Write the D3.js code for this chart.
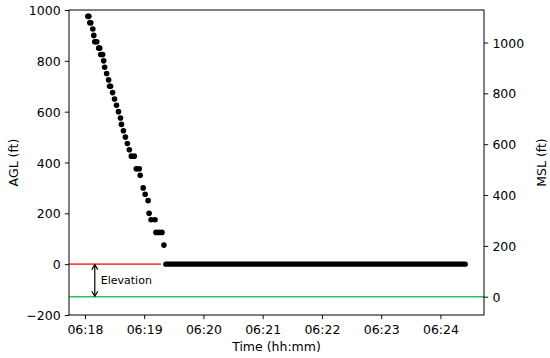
<!DOCTYPE html>
<html>
<head>
<meta charset="utf-8">
<script src="https://cdn.jsdelivr.net/npm/d3@7"></script>
<style>
  html, body { margin: 0; padding: 0; background: #fff; }
  svg { display: block; font-family: "DejaVu Sans", sans-serif; }
</style>
</head>
<body>
<svg id="chart" width="550" height="358"></svg>
<script>
// ---- data (seconds after 06:18:00, AGL feet) ----
const descentSeconds = [3, 4, 5, 6, 8, 9, 10, 12, 14, 15, 16, 18, 19, 20, 22, 24, 25, 26, 28, 30, 32, 34, 36, 37, 39, 41, 43, 45, 47, 50, 52, 55, 56, 59, 61, 64, 65, 67, 71, 72, 75, 78, 80];
const descentAGL     = [975, 975, 950, 950, 925, 900, 875, 875, 850, 850, 825, 825, 800, 775, 750, 725, 700, 700, 675, 650, 625, 600, 575, 550, 525, 500, 475, 450, 425, 425, 375, 375, 350, 300, 275, 250, 200, 175, 175, 125, 125, 125, 75];
const groundSeconds  = [82, 385];   // continuous 1 Hz samples on the ground
const groundAGL      = [0, 0];
const elevationFt    = 128;          // MSL = AGL + elevation
const redLineSeconds = [-16, 77];
const agTicks  = [-200, 0, 200, 400, 600, 800, 1000];
const mslTicks = [0, 200, 400, 600, 800, 1000];
const timeTickMinutes = [18, 19, 20, 21, 22, 23, 24];
const arrowSecond = 10;

// ---- layout ----
const svg = d3.select("#chart");
const L = 69, R = 484, T = 10, B = 315;
const base = new Date(2000, 0, 1, 6, 18, 0);
const toDate = s => new Date(base.getTime() + s * 1000);

const allSec = descentSeconds.concat(groundSeconds);
const sMin = d3.min(allSec), sMax = d3.max(allSec);
const pad = (sMax - sMin) * 0.05;
const x = d3.scaleTime().domain([toDate(sMin - pad), toDate(sMax + pad)]).range([L, R]);
const yL = d3.scaleLinear().domain([-200, 1000]).range([B, T]);
const yR = d3.scaleLinear().domain([-200 + elevationFt, 1000 + elevationFt]).range([B, T]);

const fs = 12.5;

// horizontal reference lines
svg.append("line")
  .attr("x1", L).attr("x2", R)
  .attr("y1", yL(-elevationFt)).attr("y2", yL(-elevationFt))
  .attr("stroke", "#2cc15d").attr("stroke-width", 1.6);
svg.append("line")
  .attr("x1", x(toDate(redLineSeconds[0]))).attr("x2", x(toDate(redLineSeconds[1])))
  .attr("y1", yL(0)).attr("y2", yL(0))
  .attr("stroke", "#ff4545").attr("stroke-width", 1.6);

// ground segment (dense scatter => thick rounded line)
const gLine = d3.line().x((d, i) => x(toDate(groundSeconds[i]))).y(d => yL(d));
svg.append("path")
  .attr("d", gLine(groundAGL))
  .attr("stroke", "#000").attr("stroke-width", 5.4)
  .attr("stroke-linecap", "round").attr("fill", "none");

// descent scatter
svg.append("g").selectAll("circle")
  .data(descentAGL)
  .join("circle")
  .attr("cx", (d, i) => x(toDate(descentSeconds[i])))
  .attr("cy", d => yL(d))
  .attr("r", 2.8)
  .attr("fill", "#000");

// elevation arrow
const ax = x(toDate(arrowSecond));
const ay1 = yL(0), ay2 = yL(-elevationFt);
const ag = svg.append("g").attr("stroke", "#000").attr("stroke-width", 1.2).attr("fill", "none");
ag.append("line").attr("x1", ax).attr("x2", ax).attr("y1", ay1 + 0.5).attr("y2", ay2 - 0.5);
ag.append("path").attr("d", `M${ax - 3},${ay1 + 5.5} L${ax},${ay1 + 0.5} L${ax + 3},${ay1 + 5.5}`);
ag.append("path").attr("d", `M${ax - 3},${ay2 - 5.5} L${ax},${ay2 - 0.5} L${ax + 3},${ay2 - 5.5}`);
svg.append("text")
  .attr("x", ax + 6).attr("y", (ay1 + ay2) / 2 + 4)
  .attr("font-size", 11).attr("fill", "#000")
  .text("Elevation");

// axes
const xAxis = d3.axisBottom(x)
  .tickValues(timeTickMinutes.map(m => new Date(2000, 0, 1, 6, m, 0)))
  .tickFormat(d3.timeFormat("%H:%M"))
  .tickSizeInner(4.2).tickSizeOuter(0).tickPadding(4.2);
const gx = svg.append("g").attr("transform", `translate(0,${B})`).call(xAxis);
gx.selectAll("text").attr("y", 19).attr("dy", 0).attr("font-size", fs).attr("font-family", "DejaVu Sans");

const gyl = svg.append("g").attr("transform", `translate(${L},0)`)
  .call(d3.axisLeft(yL).tickValues(agTicks).tickFormat(d => d < 0 ? "\u2212" + Math.abs(d) : String(d))
    .tickSizeInner(4.2).tickSizeOuter(0).tickPadding(4.2));
gyl.selectAll("text").attr("dy", "0.36em").attr("font-size", fs).attr("font-family", "DejaVu Sans");

const gyr = svg.append("g").attr("transform", `translate(${R},0)`)
  .call(d3.axisRight(yR).tickValues(mslTicks).tickFormat(d => String(d))
    .tickSizeInner(4.2).tickSizeOuter(0).tickPadding(4.2));
gyr.selectAll("text").attr("dy", "0.36em").attr("font-size", fs).attr("font-family", "DejaVu Sans");

[gx, gyl, gyr].forEach(g => {
  g.select(".domain").remove();
  g.selectAll(".tick line").attr("stroke", "#000").attr("stroke-width", 0.95);
  g.selectAll("text").attr("fill", "#000");
});

// frame
svg.append("rect")
  .attr("x", L).attr("y", T).attr("width", R - L).attr("height", B - T)
  .attr("fill", "none").attr("stroke", "#000").attr("stroke-width", 1);

// axis labels
svg.append("text")
  .attr("x", (L + R) / 2).attr("y", 351)
  .attr("text-anchor", "middle").attr("font-size", fs)
  .text("Time (hh:mm)");
svg.append("text")
  .attr("transform", `translate(18,${(T + B) / 2}) rotate(-90)`)
  .attr("text-anchor", "middle").attr("font-size", fs)
  .text("AGL (ft)");
svg.append("text")
  .attr("transform", `translate(545.5,${(T + B) / 2}) rotate(-90)`)
  .attr("text-anchor", "middle").attr("font-size", fs)
  .text("MSL (ft)");
</script>
</body>
</html>
